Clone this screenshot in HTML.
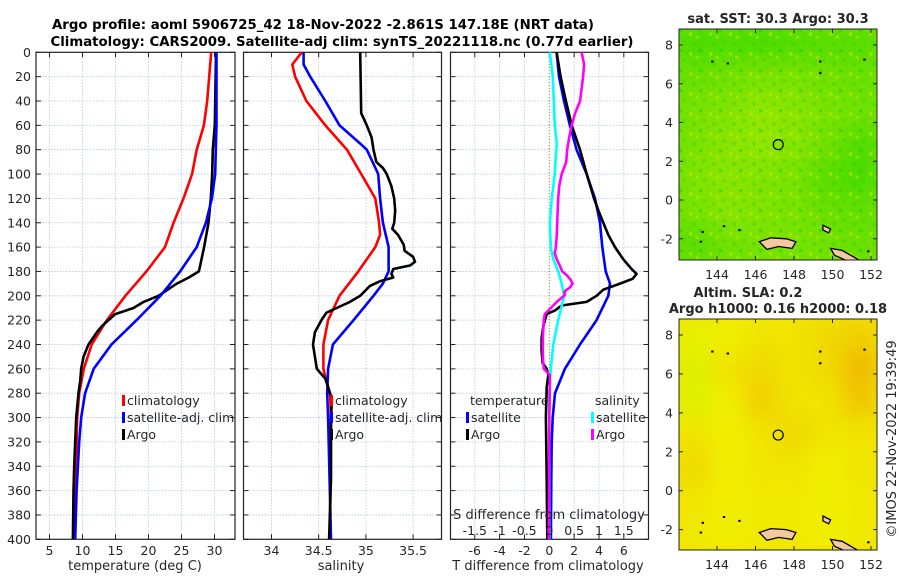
<!DOCTYPE html>
<html><head><meta charset="utf-8"><style>
html,body{margin:0;padding:0;background:#fff;}
svg{display:block;font-family:"DejaVu Sans","Liberation Sans",sans-serif;}
</style></head><body>
<svg id="fig" width="900" height="580" viewBox="0 0 900 580" xmlns="http://www.w3.org/2000/svg">
<defs>
<pattern id="sstTex" x="679" y="29" width="20" height="20" patternUnits="userSpaceOnUse">
<rect x="0" y="0" width="3.3" height="3.3" fill="#22cc00" opacity="0.5"/>
<rect x="10" y="3.3" width="3.3" height="3.3" fill="#ccee00" opacity="0.5"/>
<rect x="3.3" y="10" width="3.3" height="3.3" fill="#44d400" opacity="0.5"/>
<rect x="13.3" y="13.3" width="3.3" height="3.3" fill="#33cc00" opacity="0.45"/>
<rect x="16.6" y="6.6" width="3.3" height="3.3" fill="#b8f000" opacity="0.45"/>
<rect x="6.6" y="16.6" width="3.3" height="3.3" fill="#66dd00" opacity="0.45"/>
</pattern>
</defs>
<rect width="900" height="580" fill="#fff"/>
<text x="323" y="29" font-size="13" font-weight="bold" text-anchor="middle" textLength="542" lengthAdjust="spacingAndGlyphs">Argo profile: aoml 5906725_42 18-Nov-2022 -2.861S 147.18E (NRT data)</text>
<text x="342" y="46" font-size="13" font-weight="bold" text-anchor="middle" textLength="583" lengthAdjust="spacingAndGlyphs">Climatology: CARS2009. Satellite-adj clim: synTS_20221118.nc (0.77d earlier)</text>
<g id="layer"></g>
</svg>
<script>
// ---------- data ----------
const tempClimDepth=[0,20,40,60,80,100,120,140,160,180,200,220,240,260,280,300,320,360,400];
const tempClim=[29.5,29.2,28.9,28.4,27.3,26.6,25.3,23.8,22.5,19.7,16.5,13.7,11.4,10.2,9.5,9.2,9.1,8.9,8.7];
const tempSatDepth=[0,60,80,100,120,140,160,180,200,220,240,260,280,300,320,340,360,380,400];
const tempSat=[30.3,30.3,30.2,30.1,29.6,28.7,27.3,24.8,21.8,18.2,14.4,11.7,10.4,9.8,9.5,9.3,9.1,9.0,8.9];
const tempArgoDepth=[0,60,80,100,120,140,160,175,180,185,190,200,205,210,215,220,225,230,240,250,260,270,280,300,320,340,360,380,400];
const tempArgo=[30.25,30.05,29.75,29.65,29.44,29.09,28.43,27.83,27.63,26.11,24.29,21.52,19.25,17.73,14.95,13.94,12.93,12.17,10.91,10.15,9.8,9.65,9.39,9.04,8.89,8.74,8.64,8.59,8.54];

const salClimDepth=[0,5,10,20,40,60,80,100,120,140,150,160,180,200,220,240,260,270,280,300,400];
const salClim=[34.32,34.27,34.22,34.25,34.37,34.57,34.80,34.95,35.10,35.14,35.15,35.10,34.92,34.72,34.60,34.55,34.55,34.58,34.62,34.63,34.62];
const salSatDepth=[0,10,20,40,60,75,80,100,120,140,160,180,190,200,220,240,260,280,300,400];
const salSat=[34.34,34.34,34.41,34.57,34.72,34.94,35.01,35.13,35.15,35.18,35.24,35.24,35.18,35.08,34.87,34.65,34.60,34.59,34.60,34.63];
const salArgoDepth=[0,50,60,70,80,90,95,100,110,120,130,140,145,150,158,163,168,172,175,178,182,185,188,192,200,205,210,214,220,230,240,250,260,268,275,285,300,350,400];
const salArgo=[34.94,34.95,35.01,35.06,35.08,35.11,35.18,35.22,35.27,35.30,35.31,35.30,35.28,35.34,35.40,35.41,35.50,35.52,35.47,35.29,35.27,35.29,35.15,35.04,34.94,34.83,34.69,34.58,34.53,34.46,34.44,34.46,34.48,34.57,34.60,34.64,34.63,34.63,34.61];

const dTSatDepth=[0,20,40,60,80,100,120,140,160,180,190,200,220,240,260,280,300,320,350,400];
const dTSat=[0.59,0.78,1.18,1.66,2.2,3.0,3.68,4.08,4.27,4.54,4.89,4.75,3.81,2.47,1.26,0.46,0.27,0.19,0.16,0.13];
const dTArgoDepth=[0,20,40,60,80,100,120,130,140,150,160,170,178,182,186,190,195,200,205,208,212,215,225,235,245,255,260,265,275,300,350,400];
const dTArgo=[0.59,0.91,1.34,1.80,2.47,3.01,3.60,3.95,4.35,4.75,5.29,5.96,6.63,7.03,6.71,5.69,4.35,3.81,3.01,0.99,0.46,-0.21,-0.48,-0.62,-0.62,-0.54,-0.21,-0.08,-0.21,-0.27,-0.21,-0.16];
const dSSatDepth=[0,20,40,60,75,85,100,120,140,160,170,180,190,200,220,240,260,280,300,400];
const dSSat=[0.01,0.07,0.09,0.11,0.15,0.13,0.11,0.05,0.01,0.03,0.08,0.18,0.25,0.30,0.18,0.08,0.03,0,0,0];
const dSArgoDepth=[0,10,20,40,50,60,70,80,90,100,110,120,140,150,160,165,170,175,180,183,187,190,193,195,197,199,202,205,210,215,220,235,250,260,265,275,300,400];
const dSArgo=[0.65,0.70,0.68,0.62,0.52,0.45,0.40,0.36,0.34,0.25,0.20,0.18,0.16,0.15,0.13,0.11,0.15,0.21,0.26,0.35,0.43,0.47,0.42,0.35,0.30,0.32,0.24,0.15,0.03,-0.09,-0.11,-0.13,-0.13,-0.11,0.01,0.01,0,-0.01];

const depthTicks=[0,20,40,60,80,100,120,140,160,180,200,220,240,260,280,300,320,340,360,380,400];
const tempTicks=[5,10,15,20,25,30];
const salTicks=[34,34.5,35,35.5];
const salTickLabels=["34","34.5","35","35.5"];
const dTTicks=[-6,-4,-2,0,2,4,6];
const dSTicks=[-1.5,-1,-0.5,0,0.5,1,1.5];
const dSTickLabels=["-1.5","-1","-0.5","0","0.5","1","1.5"];

const sstGrid=[[0.3,0.35,0.3,0.35,0.4,0.4],[0.5,0.55,0.6,0.6,0.55,0.5],[0.6,0.65,0.75,0.7,0.6,0.55],[0.6,0.7,0.75,0.7,0.55,0.35],[0.65,0.7,0.65,0.6,0.4,0.3],[0.6,0.7,0.65,0.6,0.5,0.45],[0.4,0.55,0.6,0.6,0.55,0.5]];
const slaGrid=[[0.3,0.4,0.5,0.5,0.6,0.7],[0.2,0.5,0.6,0.5,0.6,0.9],[0.2,0.4,0.7,0.5,0.5,0.8],[0.5,0.4,0.5,0.6,0.5,0.5],[0.6,0.4,0.5,0.5,0.4,0.5],[0.5,0.4,0.45,0.45,0.4,0.45],[0.45,0.4,0.45,0.45,0.4,0.45]];
const lonTicks=[144,146,148,150,152];
const latTicks=[-2,0,2,4,6,8];
const argoLon=147.18, argoLat=2.86;

// ---------- helpers ----------
const NS="http://www.w3.org/2000/svg";
const layer=document.getElementById('layer');
function mk(tag,attrs,parent){const e=document.createElementNS(NS,tag);for(const k in attrs)e.setAttribute(k,attrs[k]);(parent||layer).appendChild(e);return e;}
const Y0=52.3, Y1=539.3;
const yD=d=>Y0+(d/400)*(Y1-Y0);

function panel(name,x0,x1,xf,xt,xtl,gridZero){
  const g=mk('g',{});
  
  
  for(const d of depthTicks){ if(d>0&&d<400) mk('line',{x1:x0,x2:x1,y1:yD(d),y2:yD(d),stroke:'#b8c4e8','stroke-width':0.8,'stroke-dasharray':'1.5,1.5'},g);
    mk('line',{x1:x0,x2:x0+5,y1:yD(d),y2:yD(d),stroke:'#222','stroke-width':1},g);
    mk('line',{x1:x1-5,x2:x1,y1:yD(d),y2:yD(d),stroke:'#222','stroke-width':1},g);}
  xt.forEach((v,i)=>{const x=xf(v);
    const zero=gridZero&&v===0;
    mk('line',{x1:x,x2:x,y1:Y0,y2:Y1,stroke:zero?'#6b6b3a':'#b8c4e8','stroke-width':zero?1:0.8,'stroke-dasharray':zero?'1,2':'1.5,1.5'},g);
    mk('line',{x1:x,x2:x,y1:Y0,y2:Y0+5,stroke:'#222'},g);
    mk('line',{x1:x,x2:x,y1:Y1-5,y2:Y1,stroke:'#222'},g);
    const t=mk('text',{x:x,y:555,'font-size':12.5,'text-anchor':'middle',fill:'#262626'},g);t.textContent=xtl[i];
    
    
  });
  mk('rect',{x:x0,y:Y0,width:x1-x0,height:Y1-Y0,fill:'none',stroke:'#222','stroke-width':1.2},g);
  return g;
}
function line(name,xf,xs,ds,color){
  let p='';xs.forEach((v,i)=>{p+=(i?'L':'M')+xf(v).toFixed(1)+','+yD(ds[i]).toFixed(1);});
  const e=mk('path',{d:p,fill:'none',stroke:color,'stroke-width':2.6,'stroke-linejoin':'round'});
  
  
}
function txt(s,x,y,opt){const t=mk('text',Object.assign({x:x,y:y,'font-size':12.5,fill:'#262626'},opt||{}));t.textContent=s;return t;}
function legend(color,label,x,y){
  mk('rect',{x:x,y:y-10,width:3,height:11,fill:color});
  const t=txt(label,x+5,y);
  
  
}

// ---------- panel 1 temperature ----------
const xT=v=>49.5+(v-5)*6.6;
panel('temperature-panel',36,235,xT,tempTicks,tempTicks.map(String),false);
depthTicks.forEach(d=>{const t=txt(String(d),31,yD(d)+4.5,{'text-anchor':'end'});
  
  });
line('temp-climatology-line',xT,tempClim,tempClimDepth,'#ff0000');
line('temp-argo-line',xT,tempArgo,tempArgoDepth,'#000000');
line('temp-satellite-line',xT,tempSat,tempSatDepth,'#0000ff');
let t1=txt('temperature (deg C)',135,570,{'text-anchor':'middle','font-size':13});


legend('#ff0000','climatology',122,405);
legend('#0000ff','satellite-adj. clim',122,422);
legend('#000000','Argo',122,439);

// ---------- panel 2 salinity ----------
const xS=v=>271.5+(v-34)*94.4;
panel('salinity-panel',243.5,441.5,xS,salTicks,salTickLabels,false);
line('sal-climatology-line',xS,salClim,salClimDepth,'#ff0000');
line('sal-satellite-line',xS,salSat,salSatDepth,'#0000ff');
line('sal-argo-line',xS,salArgo,salArgoDepth,'#000000');
let t2=txt('salinity',341,570,{'text-anchor':'middle','font-size':13});


legend('#ff0000','climatology',330,405);
legend('#0000ff','satellite-adj. clim',330,422);
legend('#000000','Argo',330,439);

// ---------- panel 3 differences ----------
const xDT=v=>549.3+v*12.42;
const xDS=v=>xDT(v*4);
panel('difference-panel',450.5,648.5,xDT,dTTicks,dTTicks.map(String),true);
line('dT-satellite-line',xDT,dTSat,dTSatDepth,'#0000ff');
line('dT-argo-line',xDT,dTArgo,dTArgoDepth,'#000000');
line('dS-satellite-line',xDS,dSSat,dSSatDepth,'#00ffff');
line('dS-argo-line',xDS,dSArgo,dSArgoDepth,'#ff00ff');
dSTicks.forEach((v,i)=>{const t=txt(dSTickLabels[i],xDS(v),535,{'text-anchor':'middle'});
  
  });
let t3=txt('S difference from climatology',549,519,{'text-anchor':'middle','font-size':13});


let t4=txt('T difference from climatology',548,570,{'text-anchor':'middle','font-size':13});


let t5=txt('temperature',470,405);


let t6=txt('salinity',595,405);


legend('#0000ff','satellite',466,422);
legend('#000000','Argo',466,439);
legend('#00ffff','satellite',591,422);
legend('#ff00ff','Argo',591,439);

// ---------- maps ----------
function islands(g,lx,ly){
  const shapes=[[[146.2,-2.15],[146.8,-1.95],[147.6,-2.0],[148.1,-2.15],[147.9,-2.5],[147.2,-2.4],[146.6,-2.55]],
               [[149.9,-2.5],[150.5,-2.6],[151.2,-3.0],[151.7,-3.3],[150.9,-3.2],[150.1,-2.85]],
               [[149.5,-1.3],[149.9,-1.5],[149.8,-1.7],[149.5,-1.55]],
               [[142.2,-3.1],[142.8,-3.2],[142.2,-3.3]]];
  shapes.forEach(s=>{const p=s.map((q,i)=>(i?'L':'M')+lx(q[0]).toFixed(1)+','+ly(q[1]).toFixed(1)).join('')+'Z';
    mk('path',{d:p,fill:'#f4c8a0',stroke:'#000','stroke-width':1.3},g);});
  [[143.7,7.2],[144.5,7.1],[149.3,7.2],[151.6,7.3],[144.3,-1.3],[145.1,-1.5],[143.2,-1.6],[151.8,-2.6],[149.3,6.6],[143.1,-2.1]].forEach(q=>
    mk('rect',{x:lx(q[0]),y:ly(q[1]),width:2.4,height:2,fill:'#000'},g));
}
function map(name,y0,y1,grid,colorFn,lat0px,latScale,ttl,tex){
  const x0=679,x1=877;
  const lx=l=>717+(l-144)*19.25, ly=l=>lat0px-l*latScale;
  const g=mk('g',{});
  
  
  const rows=grid.length, cols=grid[0].length, cw=(x1-x0)/cols, ch=(y1-y0)/rows;
  const cid='clip'+name;
  const cp=mk('clipPath',{id:cid},g);mk('rect',{x:x0,y:y0,width:x1-x0,height:y1-y0},cp);
  const fid='blur'+name;
  const f=mk('filter',{id:fid,x:'-20%',y:'-20%',width:'140%',height:'140%'},g);mk('feGaussianBlur',{stdDeviation:11},f);
  const gg=mk('g',{'clip-path':'url(#'+cid+')'},g);
  mk('rect',{x:x0,y:y0,width:x1-x0,height:y1-y0,fill:colorFn(0.5)},gg);
  const gb=mk('g',{filter:'url(#'+fid+')'},gg);
  grid.forEach((row,r)=>row.forEach((v,c)=>{
    const cell=mk('rect',{x:x0+c*cw-1,y:y0+r*ch-1,width:cw+2,height:ch+2,fill:colorFn(v)},gb);
    
    
  }));
  if(tex) mk('rect',{x:x0,y:y0,width:x1-x0,height:y1-y0,fill:'url(#'+tex+')'},gg);
  islands(gg,lx,ly);
  mk('rect',{x:x0,y:y0,width:x1-x0,height:y1-y0,fill:'none',stroke:'#222','stroke-width':1},g);
  lonTicks.forEach(l=>{const x=lx(l);mk('line',{x1:x,x2:x,y1:y1,y2:y1-4,stroke:'#222'},g);mk('line',{x1:x,x2:x,y1:y0,y2:y0+4,stroke:'#222'},g);
    const t=txt(String(l),x,y1+19,{'text-anchor':'middle'},g);
    
    });
  latTicks.forEach(l=>{const y=ly(l);mk('line',{x1:x0,x2:x0+4,y1:y,y2:y,stroke:'#222'},g);mk('line',{x1:x1,x2:x1-4,y1:y,y2:y,stroke:'#222'},g);
    const t=txt(String(l),673,y+4.5,{'text-anchor':'end'});
    
    });
  const c=mk('circle',{cx:lx(argoLon),cy:ly(argoLat),r:5,fill:'none',stroke:'#000','stroke-width':1.2},g);
  
  
  ttl.forEach(q=>{const t=txt(q[0],q[1],q[2],{'text-anchor':'middle','font-weight':'bold','font-size':13});
    
    });
}
map('sst-map',29,260,sstGrid,v=>'hsl('+(112-v*40)+',100%,'+(42+v*4)+'%)',200,19.375,[['sat. SST: 30.3 Argo: 30.3',778,23]],'sstTex');
map('sla-map',319,550,slaGrid,v=>'hsl('+(70-v*26)+',100%,'+(47)+'%)',490.7,19.46,[['Altim. SLA: 0.2',748,297],['Argo h1000: 0.16 h2000: 0.18',778,313]],null);

const cr=txt('©IMOS 22-Nov-2022 19:39:49',0,0,{'text-anchor':'middle','font-size':13,transform:'translate(896,439) rotate(-90)'});


</script>
</body></html>
